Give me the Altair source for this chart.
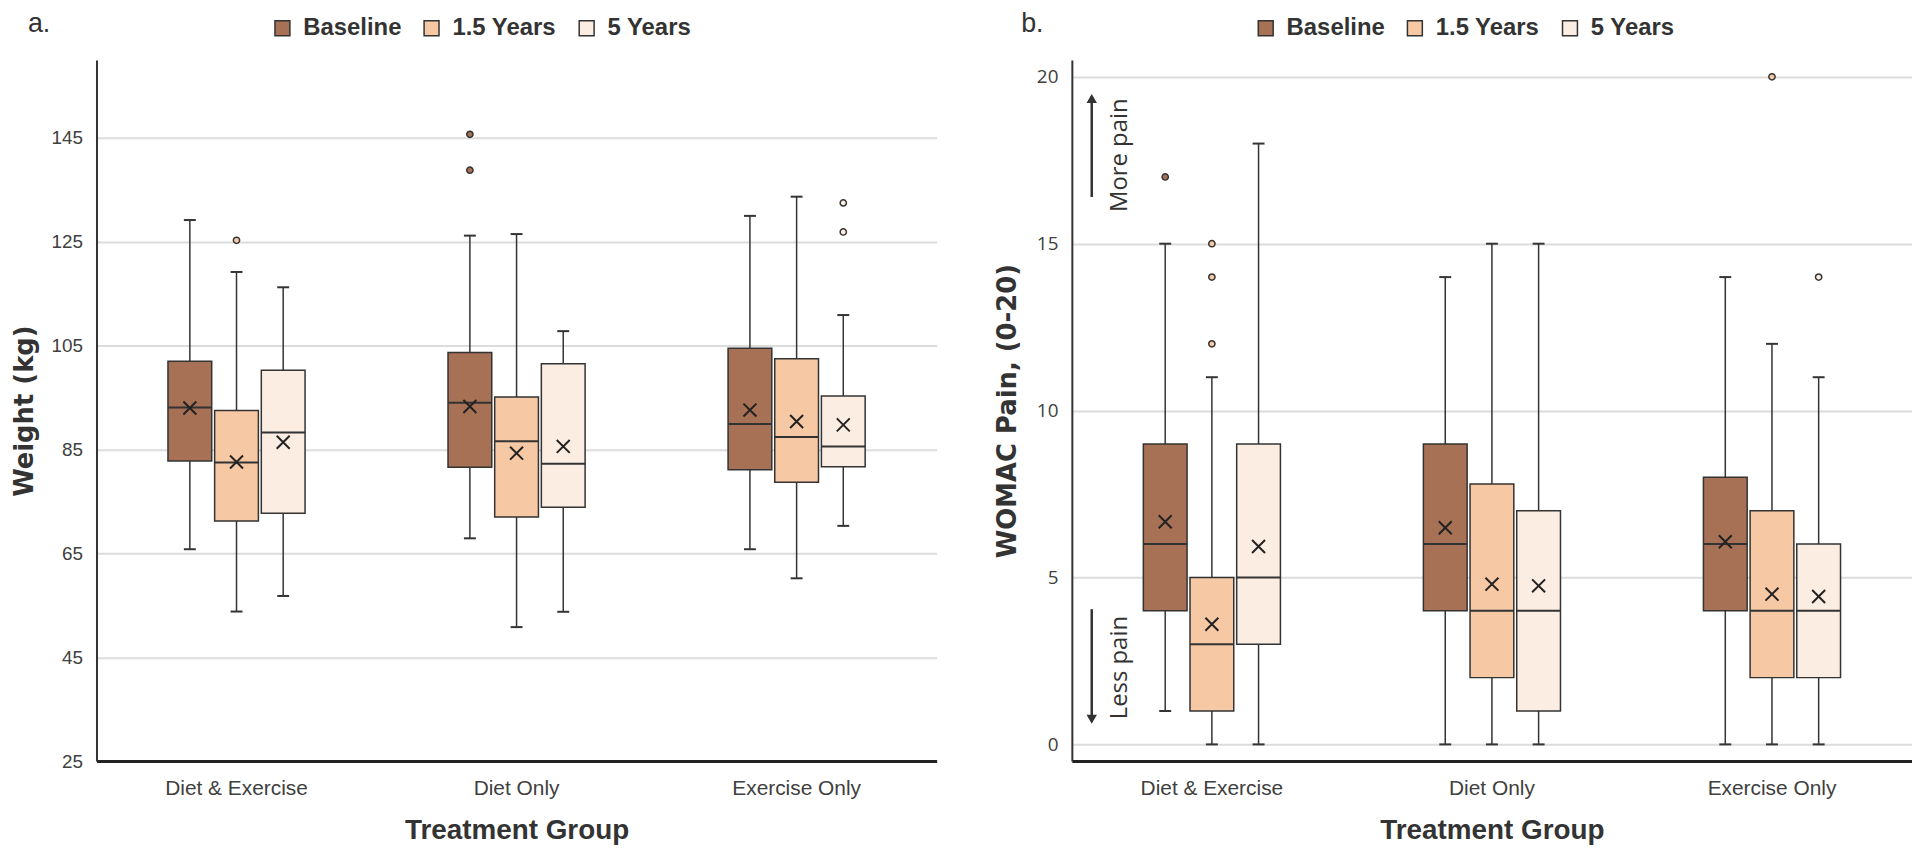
import altair as alt
import pandas as pd

groups = ["Diet & Exercise", "Diet Only", "Exercise Only"]
series = ["Baseline", "1.5 Years", "5 Years"]
colors = ["#A67154", "#F7C8A4", "#FCEDE2"]

# Panel a: Weight (kg); order = group-major, series-minor
w_low = [65.8, 53.8, 56.8, 67.9, 50.8, 53.75, 65.8, 60.2, 70.3]
w_q1 = [82.8, 71.25, 72.75, 81.6, 72.0, 73.9, 81.1, 78.7, 81.7]
w_med = [93.1, 82.5, 88.3, 94.0, 86.6, 82.25, 89.9, 87.4, 85.6]
w_q3 = [102.0, 92.5, 100.25, 103.7, 95.1, 101.5, 104.5, 102.5, 95.3]
w_high = [129.2, 119.2, 116.25, 126.2, 126.5, 107.8, 130.0, 133.7, 110.9]
w_mean = [93.0, 82.6, 86.4, 93.3, 84.3, 85.6, 92.6, 90.4, 89.75]
w_out_group = ["Diet & Exercise", "Diet Only", "Diet Only", "Exercise Only", "Exercise Only"]
w_out_series = ["1.5 Years", "Baseline", "Baseline", "5 Years", "5 Years"]
w_out_value = [125.3, 145.7, 138.8, 132.5, 126.9]
w_ticks = [25, 45, 65, 85, 105, 125, 145]

# Panel b: WOMAC Pain (0-20)
p_low = [1, 0, 0, 0, 0, 0, 0, 0, 0]
p_q1 = [4, 1, 3, 4, 2, 1, 4, 2, 2]
p_med = [6, 3, 5, 6, 4, 4, 6, 4, 4]
p_q3 = [9, 5, 9, 9, 7.8, 7, 8, 7, 6]
p_high = [15, 11, 18, 14, 15, 15, 14, 12, 11]
p_mean = [6.67, 3.6, 5.93, 6.49, 4.8, 4.75, 6.07, 4.5, 4.43]
p_out_group = ["Diet & Exercise"] * 4 + ["Exercise Only"] * 2
p_out_series = ["Baseline", "1.5 Years", "1.5 Years", "1.5 Years", "1.5 Years", "5 Years"]
p_out_value = [17, 15, 14, 12, 20, 14]
p_ticks = [0, 5, 10, 15, 20]

arrow_text = ["More pain", "Less pain"]
arrow_dir = ["up", "down"]
arrow_tail = [16.4, 4.05]
arrow_head = [19.35, 0.75]
arrow_label_y = [17.65, 2.3]

DARK = "#333333"


def panel(low, q1, med, q3, high, mean, og, osr, ov, ydom, yvals, ytitle,
          letter, letter_x, tickfont, legend_x, ytitle_pad, annot=False):
    stats = pd.DataFrame({
        "group": [g for g in groups for s in series],
        "series": [s for g in groups for s in series],
        "low": low, "q1": q1, "med": med, "q3": q3, "high": high, "mean": mean,
    })
    outl = pd.DataFrame({"group": og, "series": osr, "value": ov})

    xax = alt.Axis(title="Treatment Group", labelAngle=0, ticks=False,
                   domainColor="#222222", domainWidth=3, grid=False,
                   labelFont="Liberation Sans", labelFontSize=21,
                   labelColor="#404040", labelPadding=17,
                   titleFont="Liberation Sans", titleFontSize=28,
                   titleFontWeight="bold", titleColor=DARK, titlePadding=18)
    x = alt.X("group:N", sort=groups,
              scale=alt.Scale(paddingInner=0.5, paddingOuter=0.25), axis=xax)
    xo = alt.XOffset("series:N", sort=series,
                     scale=alt.Scale(paddingInner=0, paddingOuter=0))
    ysc = alt.Scale(domain=ydom, nice=False, zero=False)
    yax = alt.Axis(values=yvals, grid=True, gridColor="#dcdcdc", gridWidth=2,
                   ticks=False, domainColor=DARK, domainWidth=2,
                   labelFont=tickfont, labelFontSize=19, labelColor="#404040",
                   labelPadding=14, title=ytitle, titleFont="DejaVu Sans",
                   titleFontSize=26, titleFontWeight="bold", titleColor=DARK,
                   titlePadding=ytitle_pad)

    def Y(f):
        return alt.Y(f, scale=ysc, axis=yax)

    color = alt.Color("series:N", sort=series,
                      scale=alt.Scale(domain=series, range=colors),
                      legend=alt.Legend(orient="none", legendX=legend_x,
                                        legendY=-44, direction="horizontal",
                                        title=None, symbolType="square",
                                        symbolSize=225, symbolStrokeColor=DARK,
                                        symbolStrokeWidth=1.5, symbolOpacity=1,
                                        labelFont="Liberation Sans",
                                        labelFontSize=24, labelFontWeight="bold",
                                        labelColor=DARK, labelOffset=9,
                                        columnPadding=18, labelLimit=400,
                                        padding=0))

    base = alt.Chart(stats)
    whisk = base.mark_rule(color=DARK, strokeWidth=1.5).encode(
        x=x, xOffset=xo, y=Y("low:Q"), y2="high:Q")
    box = base.mark_bar(size=44, stroke=DARK, strokeWidth=1.5, opacity=1).encode(
        x=x, xOffset=xo, y=Y("q1:Q"), y2="q3:Q", color=color)
    median = base.mark_tick(size=44, thickness=2, color=DARK, opacity=1).encode(
        x=x, xOffset=xo, y=Y("med:Q"))
    cap_lo = base.mark_tick(size=12, thickness=2, color=DARK, opacity=1).encode(
        x=x, xOffset=xo, y=Y("low:Q"))
    cap_hi = base.mark_tick(size=12, thickness=2, color=DARK, opacity=1).encode(
        x=x, xOffset=xo, y=Y("high:Q"))
    means = base.mark_point(shape="M-1,-1L1,1M-1,1L1,-1", size=170,
                            strokeWidth=2, color="#222222", filled=False,
                            opacity=1).encode(x=x, xOffset=xo, y=Y("mean:Q"))
    outs = alt.Chart(outl).mark_point(shape="circle", filled=True, size=40,
                                      stroke=DARK, strokeWidth=1.5,
                                      opacity=1).encode(
        x=x, xOffset=xo, y=Y("value:Q"), color=color)
    lab = alt.Chart(pd.DataFrame({"t": [letter]})).mark_text(
        align="left", baseline="alphabetic", fontSize=27,
        font="Liberation Sans", color=DARK).encode(
        text="t:N", x=alt.value(letter_x), y=alt.value(-28))

    layers = [whisk, box, median, cap_lo, cap_hi, means, outs, lab]

    if annot:
        ad = pd.DataFrame({"label": arrow_text, "dir": arrow_dir,
                           "tail": arrow_tail, "head": arrow_head,
                           "ly": arrow_label_y})
        ab = alt.Chart(ad)
        shaft = ab.mark_rule(color=DARK, strokeWidth=2.5).encode(
            x=alt.value(20), y=Y("tail:Q"), y2="head:Q")
        heads = ab.mark_point(filled=True, size=110, color=DARK,
                              opacity=1).encode(
            x=alt.value(20), y=Y("head:Q"),
            shape=alt.Shape("dir:N",
                            scale=alt.Scale(domain=["up", "down"],
                                            range=["triangle-up", "triangle-down"]),
                            legend=None))
        txt = ab.mark_text(angle=270, font="Open Sans", fontSize=24,
                           color=DARK, align="center",
                           baseline="middle").encode(
            x=alt.value(48), y=Y("ly:Q"), text="label:N")
        layers += [shaft, heads, txt]

    return alt.layer(*layers).properties(width=845, height=705)


pa = panel(w_low, w_q1, w_med, w_q3, w_high, w_mean,
           w_out_group, w_out_series, w_out_value,
           [25, 160], w_ticks, "Weight (kg)", "a.", -69,
           "Liberation Sans", 175, 14)
pb = panel(p_low, p_q1, p_med, p_q3, p_high, p_mean,
           p_out_group, p_out_series, p_out_value,
           [-0.5, 20.5], p_ticks, "WOMAC Pain, (0-20)", "b.", -51,
           "Open Sans", 183, 16, annot=True)

chart = alt.hconcat(pa, pb, spacing=58).resolve_scale(
    color="independent").properties(
    padding={"left": 3, "top": 0, "right": 0, "bottom": 0}
).configure_view(stroke=None)

chart.save("out.html", embed_options={"renderer": "svg", "actions": False})
